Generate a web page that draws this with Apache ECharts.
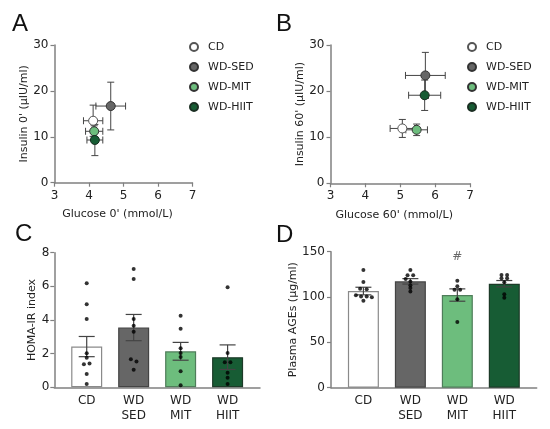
<!DOCTYPE html>
<html><head><meta charset="utf-8">
<script src="https://cdn.jsdelivr.net/npm/echarts@6/dist/echarts.min.js"></script>
<style>html,body{margin:0;padding:0;background:#fff}#c{width:550px;height:429px}</style>
</head><body><div id="c"></div>
<script>
// ---------- data ----------
const groups = ['CD', 'WD-SED', 'WD-MIT', 'WD-HIIT'];
const barLabels = ['CD', 'WD\nSED', 'WD\nMIT', 'WD\nHIIT'];
const xTicksGlucose = [3, 4, 5, 6, 7];

const glucose0 = [4.12, 4.63, 4.15, 4.17];
const glucose0Err = [0.28, 0.43, 0.25, 0.23];
const insulin0 = [13.5, 16.7, 11.2, 9.3];
const insulin0Err = [3.4, 5.2, 1.2, 3.4];

const glucose60 = [5.06, 5.72, 5.47, 5.70];
const glucose60Err = [0.35, 0.57, 0.31, 0.46];
const insulin60 = [11.9, 23.4, 11.6, 19.1];
const insulin60Err = [1.95, 5.0, 1.25, 3.3];

const homaMean = [2.42, 3.55, 2.14, 1.79];
const homaSem = [0.6, 0.78, 0.53, 0.73];
const homaCD = [6.18, 4.93, 4.06, 2.02, 1.75, 1.41, 1.37, 0.79, 0.2];
const homaCDJit = [0, 0, 0, 0, 0, 0.06, -0.06, 0, 0];
const homaSED = [7.03, 6.43, 4.06, 3.66, 3.3, 1.66, 1.54, 1.05];
const homaSEDJit = [0, 0, 0, 0, 0, -0.06, 0.06, 0];
const homaMIT = [4.25, 3.48, 2.32, 2.04, 1.8, 0.95, 0.12];
const homaMITJit = [0, 0, 0, 0, 0, 0, 0];
const homaHIIT = [5.94, 2.04, 1.49, 1.49, 0.87, 0.57, 0.2];
const homaHIITJit = [0, 0, -0.06, 0.06, 0, 0, 0];

const agesMean = [106.6, 117.3, 102.2, 114.7];
const agesSem = [4.2, 3.0, 6.8, 3.5];
const agesCD = [129.8, 116.5, 109, 108.5, 102, 100.5, 100.5, 99.7, 96];
const agesCDJit = [0, 0, -0.07, 0.07, -0.16, -0.05, 0.07, 0.18, 0];
const agesSED = [129.8, 124, 124, 120, 117, 113, 110, 106];
const agesSEDJit = [0, -0.06, 0.06, -0.1, 0, 0, 0, 0];
const agesMIT = [118, 112, 108, 108, 97.5, 72.4];
const agesMITJit = [0, 0, -0.06, 0.06, 0, 0];
const agesHIIT = [124.2, 124.2, 120.6, 120.6, 116.2, 103, 99.2];
const agesHIITJit = [-0.06, 0.06, -0.06, 0.06, 0, 0, 0];
const agesMarkText = '#';
const agesMarkGroup = 2;
const agesMarkValue = 144;

// ---------- styles ----------
const FONT = 'DejaVu Sans';
const fills = ['#ffffff', '#666666', '#6dbd7d', '#175c34'];
const strokes = ['#555555', '#333333', '#333333', '#1a2e22'];
const barStrokes = ['#8a8a8a', '#444444', '#4f7d5a', '#1d3a28'];
const axisColor = '#808080';
const txt = '#222222';

const chart = echarts.init(document.getElementById('c'), null, {renderer: 'canvas'});

function xyErr(params, api) {
  const x = api.value(0), y = api.value(1), xe = api.value(2), ye = api.value(3);
  const c = api.coord([x, y]);
  const l = api.coord([x - xe, y]), r = api.coord([x + xe, y]);
  const t = api.coord([x, y + ye]), b = api.coord([x, y - ye]);
  const cap = 3.5;
  const style = {stroke: '#444', lineWidth: 1};
  const ln = (x1, y1, x2, y2) => ({type: 'line', shape: {x1, y1, x2, y2}, style});
  return {type: 'group', children: [
    ln(l[0], c[1], r[0], c[1]),
    ln(l[0], c[1] - cap, l[0], c[1] + cap),
    ln(r[0], c[1] - cap, r[0], c[1] + cap),
    ln(c[0], t[1], c[0], b[1]),
    ln(c[0] - cap, t[1], c[0] + cap, t[1]),
    ln(c[0] - cap, b[1], c[0] + cap, b[1])
  ]};
}
function barErr(params, api) {
  const x = api.value(0), m = api.value(1), e = api.value(2);
  const t = api.coord([x, m + e]), b = api.coord([x, m - e]);
  const cap = 8;
  const style = {stroke: '#444', lineWidth: 1.2};
  const ln = (x1, y1, x2, y2) => ({type: 'line', shape: {x1, y1, x2, y2}, style});
  return {type: 'group', children: [
    ln(t[0], t[1], b[0], b[1]),
    ln(t[0] - cap, t[1], t[0] + cap, t[1]),
    ln(b[0] - cap, b[1], b[0] + cap, b[1])
  ]};
}

const axisLine = {show: true, onZero: false, lineStyle: {color: axisColor, width: 1.5}};
const axisTick = {show: true, length: 4, lineStyle: {color: axisColor, width: 1.2}};
const lbl = {fontSize: 12, color: txt, fontFamily: FONT};
const nameStyle = {fontSize: 11, color: txt, fontFamily: FONT};

function valY(gi, min, max, interval, name, gap, margin) {
  return {gridIndex: gi, type: 'value', min, max, interval, name, nameLocation: 'middle', nameGap: gap,
    nameTextStyle: nameStyle, axisLine, axisTick, axisLabel: Object.assign({margin}, lbl), splitLine: {show: false}};
}
function glucoseX(gi, name) {
  return {gridIndex: gi, type: 'value', min: xTicksGlucose[0], max: xTicksGlucose[xTicksGlucose.length - 1], interval: 1,
    name, nameLocation: 'middle', nameGap: 26, nameTextStyle: Object.assign({padding: [0, 12, 0, 0]}, nameStyle),
    axisLine, axisTick, axisLabel: Object.assign({margin: 7}, lbl), splitLine: {show: false}};
}
function catX(gi) {
  return {gridIndex: gi, type: 'value', min: -0.69, max: 3.69,
    axisLine, axisTick: {show: false},
    axisLabel: Object.assign({margin: 6, lineHeight: 15, customValues: [0, 1, 2, 3],
      formatter: v => barLabels[Math.round(v)]}, lbl),
    splitLine: {show: false}};
}

const series = [];
// Panels A & B
[[glucose0, glucose0Err, insulin0, insulin0Err, 0], [glucose60, glucose60Err, insulin60, insulin60Err, 1]].forEach(
  ([gx, gxe, iy, iye, k]) => {
    series.push({type: 'custom', name: 'err' + k, xAxisIndex: k, yAxisIndex: k, renderItem: xyErr, z: 2,
      data: groups.map((g, i) => [gx[i], iy[i], gxe[i], iye[i]])});
    groups.forEach((g, i) => {
      series.push({type: 'scatter', name: g, xAxisIndex: k, yAxisIndex: k, symbolSize: 9, z: 5,
        itemStyle: {color: fills[i], borderColor: strokes[i], borderWidth: 1, opacity: 1},
        data: [[gx[i], iy[i]]]});
    });
  });

// Panels C & D
function barPanel(k, means, sems, dots, jits) {
  series.push({type: 'bar', name: 'bar' + k, xAxisIndex: k, yAxisIndex: k, barWidth: 31, z: 2,
    data: means.map((v, i) => ({value: [i, v], itemStyle: {color: fills[i], borderColor: barStrokes[i], borderWidth: 1.2}}))});
  series.push({type: 'custom', name: 'sem' + k, xAxisIndex: k, yAxisIndex: k, renderItem: barErr, z: 3,
    data: means.map((v, i) => [i, v, sems[i]])});
  series.push({type: 'scatter', name: 'dots' + k, xAxisIndex: k, yAxisIndex: k, symbolSize: 4, z: 4,
    itemStyle: {color: '#000'},
    data: dots.flatMap((arr, i) => arr.map((v, j) => [i + jits[i][j], v]))});
}
barPanel(2, homaMean, homaSem, [homaCD, homaSED, homaMIT, homaHIIT], [homaCDJit, homaSEDJit, homaMITJit, homaHIITJit]);
barPanel(3, agesMean, agesSem, [agesCD, agesSED, agesMIT, agesHIIT], [agesCDJit, agesSEDJit, agesMITJit, agesHIITJit]);
series.push({type: 'scatter', name: 'mark', xAxisIndex: 3, yAxisIndex: 3, symbolSize: 1, z: 5,
  itemStyle: {color: 'rgba(0,0,0,0)'},
  label: {show: true, position: 'inside', formatter: agesMarkText, fontSize: 12, color: '#444', fontFamily: FONT},
  data: [[agesMarkGroup, agesMarkValue]]});

const legendBase = {data: groups, orient: 'vertical', top: 40, itemWidth: 18, itemHeight: 8, itemGap: 6, padding: 0,
  icon: 'circle', selectedMode: false, textStyle: {fontSize: 11, color: txt, fontFamily: FONT, lineHeight: 14}};

const letter = (t, left, top) => ({text: t, left, top, padding: 0,
  textStyle: {fontSize: 24, fontWeight: 'normal', color: '#111', fontFamily: 'Liberation Sans'}});

chart.setOption({
  animation: false,
  backgroundColor: '#fff',
  title: [letter('A', 12, 12), letter('B', 276, 12), letter('C', 15, 222), letter('D', 276, 223)],
  legend: [Object.assign({left: 189}, legendBase), Object.assign({left: 467}, legendBase)],
  grid: [
    {left: 54.5, top: 45, width: 138, height: 137.7},
    {left: 330.5, top: 45, width: 139.5, height: 138.3},
    {left: 54.3, top: 252.7, width: 205.7, height: 134.6},
    {left: 331, top: 251.7, width: 205.7, height: 136}
  ],
  xAxis: [glucoseX(0, "Glucose 0' (mmol/L)"), glucoseX(1, "Glucose 60' (mmol/L)"), catX(2), catX(3)],
  yAxis: [
    valY(0, 0, 30, 10, "Insulin 0' (μIU/ml)", 21, 6),
    valY(1, 0, 30, 10, "Insulin 60' (μIU/ml)", 21, 6),
    valY(2, 0, 8, 2, 'HOMA-IR index', 15, 5),
    valY(3, 0, 150, 50, 'Plasma AGEs (μg/ml)', 25, 6)
  ],
  series
});
</script></body></html>
